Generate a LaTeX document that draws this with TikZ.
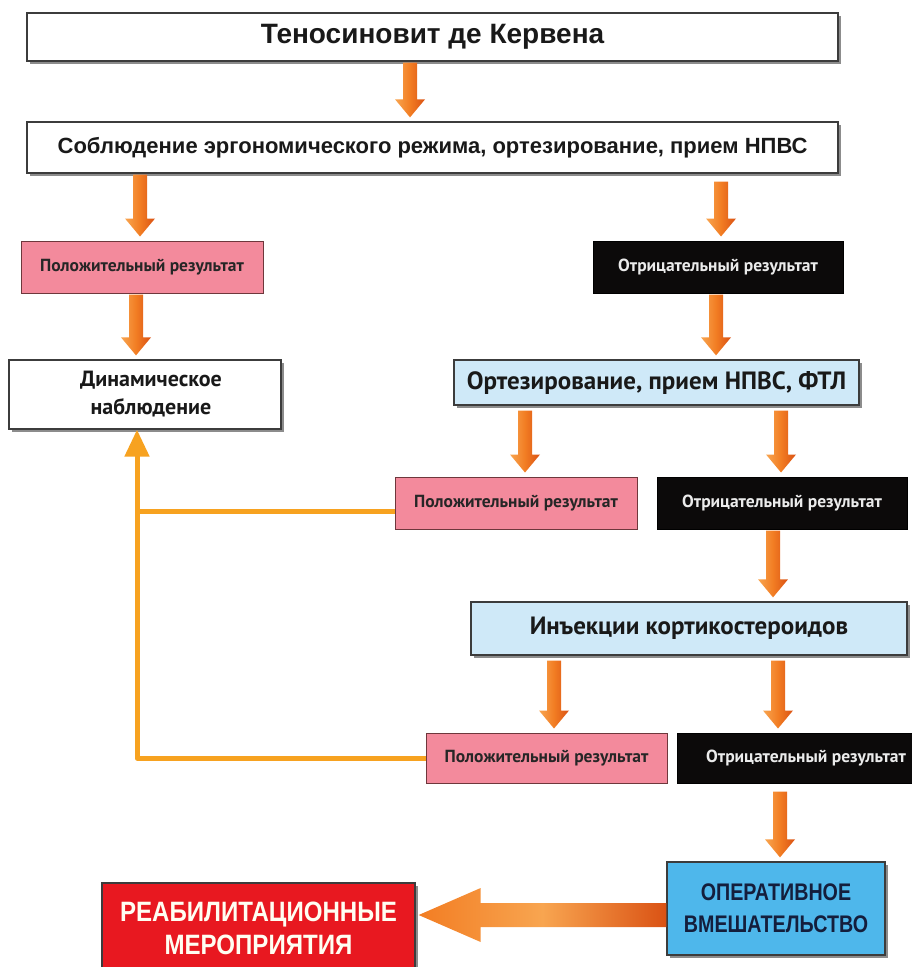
\documentclass[tikz,border=0pt]{standalone}
\usepackage{fontspec}
\setmainfont{Liberation Sans}
\newfontfamily\ptsans{PT Sans}
\newfontfamily\narrowsans[FakeStretch=0.86]{Liberation Sans}
\newfontfamily\narrowersans[FakeStretch=0.82]{Liberation Sans}
\usetikzlibrary{calc,shadows,arrows.meta}

\definecolor{pinkbox}{RGB}{243,138,156}
\definecolor{lbbox}{RGB}{207,233,248}
\definecolor{bluebox}{RGB}{78,183,235}
\definecolor{redbox}{RGB}{232,24,32}
\definecolor{blackbox}{RGB}{12,10,10}
\definecolor{orlight}{RGB}{248,165,80}
\definecolor{ormid}{RGB}{242,125,35}
\definecolor{ordark}{RGB}{218,82,20}
\definecolor{fbcol}{RGB}{247,162,32}
\definecolor{edgecol}{RGB}{60,60,60}
\definecolor{navy}{RGB}{20,30,60}
\definecolor{pinkedge}{RGB}{110,55,60}

\tikzset{
  basebox/.style={inner sep=0pt, align=center, line width=1.3pt},
  shadowed/.style={drop shadow={shadow xshift=3pt, shadow yshift=-3pt, fill=black!60, opacity=0.75}},
  wbox/.style={basebox, shadowed, draw=edgecol, fill=white, text=black!90},
  lbox/.style={basebox, shadowed, draw=edgecol, fill=lbbox, text=black!90,
     font=\ptsans\bfseries\fontsize{25}{28}\selectfont},
  posbox/.style={basebox, draw=pinkedge, line width=1pt, fill=pinkbox, text=black!85,
     minimum width=242pt, minimum height=52pt, font=\ptsans\bfseries\fontsize{17.5}{20}\selectfont},
  negbox/.style={basebox, draw=black, line width=1pt, fill=blackbox, text=white!92!black,
     minimum width=250pt, minimum height=52pt, font=\ptsans\bfseries\fontsize{17.5}{20}\selectfont},
  opbox/.style={basebox, shadowed, draw=edgecol, fill=bluebox, text=navy,
     font=\narrowersans\bfseries\fontsize{24}{32}\selectfont},
  rehbox/.style={basebox, shadowed, draw=edgecol, fill=redbox, text=white!95!yellow,
     font=\narrowsans\bfseries\fontsize{28}{33}\selectfont},
  arrowshade/.style={left color=orlight, right color=ordark, middle color=ormid},
  bigshade/.style={left color=ormid, right color=ordark, middle color=orlight},
  fbline/.style={draw=fbcol, line width=5pt, line join=round},
}

% #1 x position, #2 source anchor, #3 target anchor, #4 gap below source
\newcommand{\vArrow}[4]{%
  \path[arrowshade] let \p1=(#2), \p2=(#3) in
    (#1pt-7pt,\y1-#4pt) -- (#1pt+7pt,\y1-#4pt) -- (#1pt+7pt,\y2+22pt)
    -- (#1pt+15pt,\y2+22pt) -- (#1pt,\y2+4pt) -- (#1pt-15pt,\y2+22pt)
    -- (#1pt-7pt,\y2+22pt) -- cycle;}

\begin{document}
\begin{tikzpicture}[x=1pt,y=-1pt]
\useasboundingbox (0,0) rectangle (912,967);

% nodes
\node[wbox, minimum width=811pt, minimum height=48pt,
      font=\bfseries\fontsize{28}{30}\selectfont] (top) at (432.5,37) {Теносиновит де Кервена};
\node[wbox, minimum width=811pt, minimum height=51pt,
      font=\bfseries\fontsize{22}{25}\selectfont] (ergo) at (432.5,147.5)
      {Соблюдение эргономического режима, ортезирование, прием НПВС};

\node[posbox] (pos1) at (142,267) {Положительный результат};
\node[negbox] (neg1) at (718,267) {Отрицательный результат};

\node[wbox, minimum width=272pt, minimum height=69pt,
      font=\ptsans\bfseries\fontsize{22}{28}\selectfont] (dyn) at (145,394.5)
      {\hspace*{12pt}Динамическое\\\hspace*{12pt}наблюдение};
\node[lbox, minimum width=405pt, minimum height=45pt] (lb1) at (656.5,382.5)
      {Ортезирование, прием НПВС, ФТЛ};

\node[posbox] (pos2) at (516,503) {Положительный результат};
\node[negbox] (neg2) at (782,503) {Отрицательный результат};

\node[lbox, minimum width=436pt, minimum height=53pt] (lb2) at (689,628.5)
      {Инъекции кортикостероидов};

\node[posbox, minimum width=241pt, minimum height=50pt] (pos3) at (546.5,758) {Положительный результат};
\node[negbox, minimum width=258pt, minimum height=50pt] (neg3) at (806,758) {Отрицательный результат};

\node[opbox, minimum width=218pt, minimum height=93pt] (op) at (776,908.5)
      {ОПЕРАТИВНОЕ\\ВМЕШАТЕЛЬСТВО};
\node[rehbox, minimum width=313pt, minimum height=91pt] (reh) at (258.5,928.5)
      {РЕАБИЛИТАЦИОННЫЕ\\МЕРОПРИЯТИЯ};

% vertical arrows
\vArrow{410}{top.south}{ergo.north}{1}
\vArrow{140}{ergo.south}{pos1.north}{1}
\vArrow{136}{pos1.south}{dyn.north}{1}
\vArrow{721}{ergo.south}{neg1.north}{8}
\vArrow{716}{neg1.south}{lb1.north}{1}
\vArrow{525}{lb1.south}{pos2.north}{5}
\vArrow{781}{lb1.south}{neg2.north}{5}
\vArrow{773}{neg2.south}{lb2.north}{1}
\vArrow{554}{lb2.south}{pos3.north}{5}
\vArrow{778}{lb2.south}{neg3.north}{5}
\vArrow{780}{neg3.south}{op.north}{8}

% big horizontal arrow
\path[bigshade] let \p1=($(op.west)+(0,6.5)$), \p2=(reh.east) in
  (\x1,\y1+12pt) -- (\x2+65pt,\y1+12pt) -- (\x2+65pt,\y1+27pt) -- (\x2+3pt,\y1)
  -- (\x2+65pt,\y1-27pt) -- (\x2+65pt,\y1-12pt) -- (\x1,\y1-12pt) -- cycle;

% feedback lines
\coordinate (fbx) at (137,0);
\coordinate (p2w) at ($(pos2.west)+(0,8)$);
\draw[fbline] (p2w) -- (p2w -| fbx);
\draw[fbline, -{Triangle[width=24pt,length=27pt]}] (pos3.west) -- (pos3.west -| fbx) -- (dyn.south -| fbx);
\end{tikzpicture}
\end{document}
